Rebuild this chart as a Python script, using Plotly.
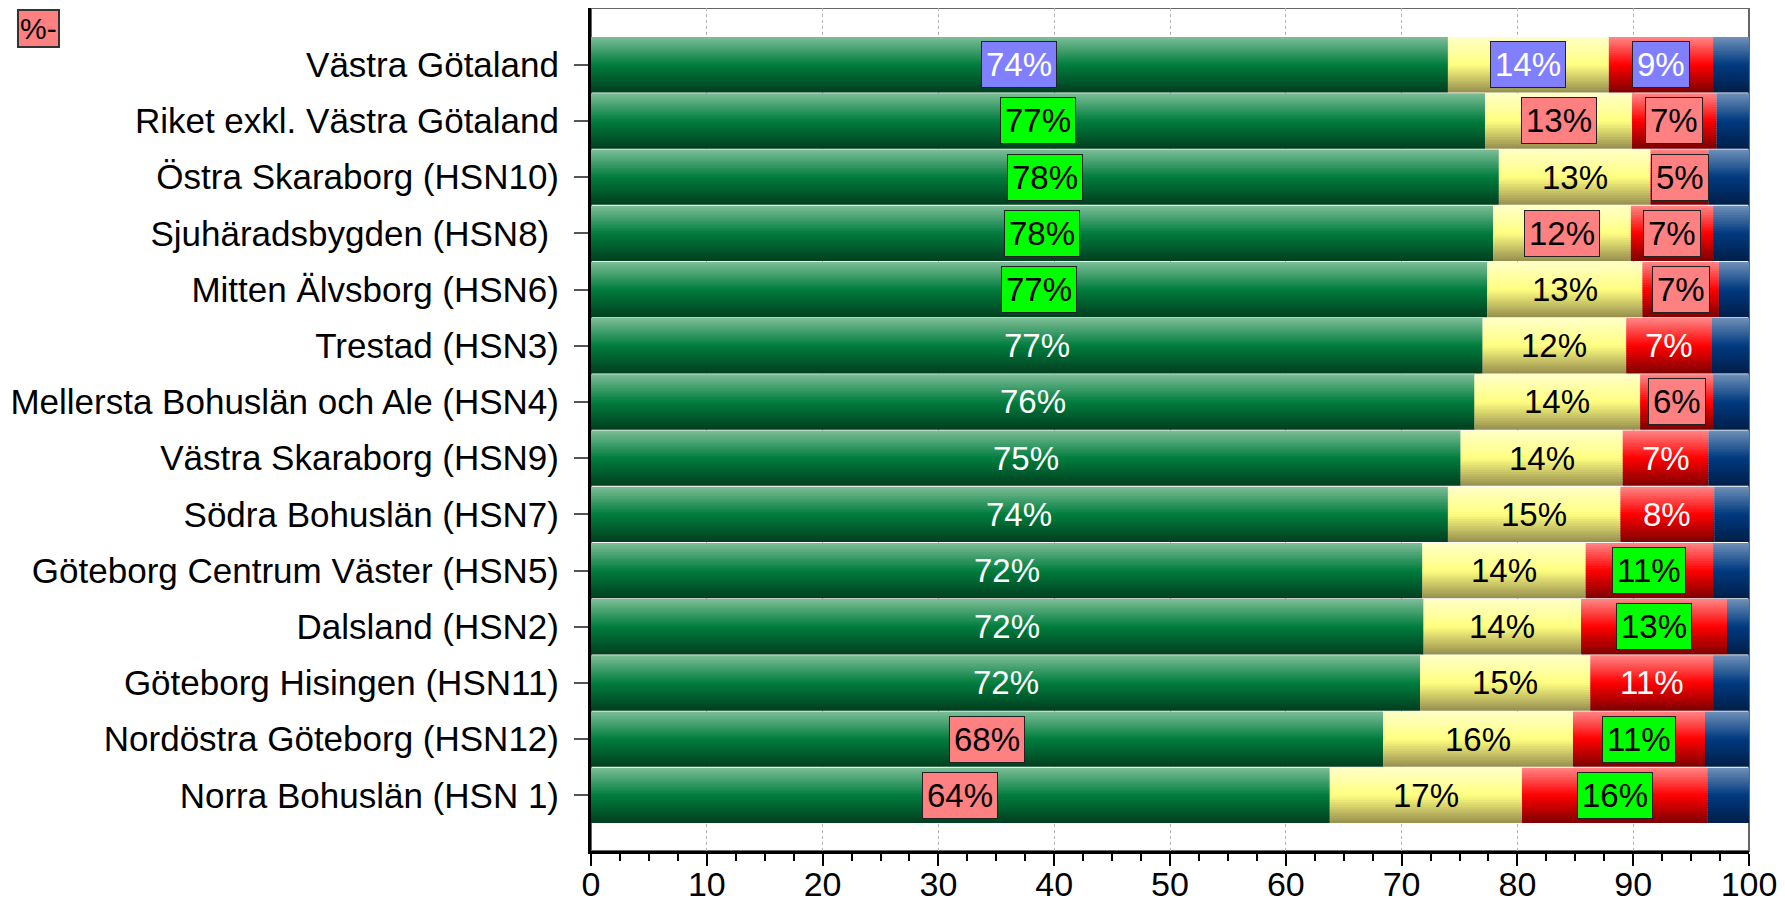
import plotly.graph_objects as go

categories = [
    "Västra Götaland",
    "Riket exkl. Västra Götaland",
    "Östra Skaraborg (HSN10)",
    "Sjuhäradsbygden (HSN8)\u00a0",
    "Mitten Älvsborg (HSN6)",
    "Trestad (HSN3)",
    "Mellersta Bohuslän och Ale (HSN4)",
    "Västra Skaraborg (HSN9)",
    "Södra Bohuslän (HSN7)",
    "Göteborg Centrum Väster (HSN5)",
    "Dalsland (HSN2)",
    "Göteborg Hisingen (HSN11)",
    "Nordöstra Göteborg (HSN12)",
    "Norra Bohuslän (HSN 1)",
]

green = [74.0, 77.2, 78.4, 77.9, 77.4, 77.0, 76.3, 75.1, 74.0, 71.8, 71.9, 71.6, 68.4, 63.8]
yellow = [13.9, 12.7, 13.1, 11.9, 13.4, 12.4, 14.3, 14.0, 14.9, 14.1, 13.6, 14.7, 16.4, 16.6]
red = [9.0, 7.3, 5.0, 7.1, 6.6, 7.4, 6.3, 7.4, 8.1, 11.0, 12.6, 10.6, 11.4, 16.0]
blue = [round(100 - g - y - r, 1) for g, y, r in zip(green, yellow, red)]

# label marking per segment: b = blue box, g = green box, p = pink box, "" = plain
green_flag = ["b", "g", "g", "g", "g", "", "", "", "", "", "", "", "p", "p"]
yellow_flag = ["b", "p", "", "p", "", "", "", "", "", "", "", "", "", ""]
red_flag = ["b", "p", "p", "p", "p", "", "p", "", "", "g", "g", "", "g", "g"]

FONT = "Liberation Sans, Arial, sans-serif"

# gradient stops (top, middle, bottom) for each segment
gradients = {
    "green": [(0.0, (125, 190, 152)), (0.5, (0, 125, 62)), (1.0, (0, 62, 30))],
    "yellow": [(0.0, (255, 255, 200)), (0.5, (255, 255, 128)), (1.0, (150, 142, 78))],
    "red": [(0.0, (255, 135, 135)), (0.5, (255, 0, 0)), (1.0, (125, 0, 0))],
    "blue": [(0.0, (112, 145, 185)), (0.5, (0, 58, 128)), (1.0, (0, 30, 72))],
}


def shade(stops, t):
    for (t0, c0), (t1, c1) in zip(stops[:-1], stops[1:]):
        if t <= t1:
            f = (t - t0) / (t1 - t0)
            c = [round(a + (b - a) * f) for a, b in zip(c0, c1)]
            return "rgb(%d,%d,%d)" % tuple(c)
    return "rgb(%d,%d,%d)" % stops[-1][1]


segments = [("green", green), ("yellow", yellow), ("red", red), ("blue", blue)]

fig = go.Figure()

W = 0.985
N = 24
base = [0.0] * len(categories)
bases = {}
for name, vals in segments:
    bases[name] = list(base)
    for k in range(N):
        w = W / N if k == N - 1 else W / N + 0.02  # overlap to hide seams
        fig.add_trace(go.Bar(
            y=categories, x=vals, base=list(base), orientation="h",
            width=w, offset=-W / 2 + k * W / N,
            marker=dict(color=shade(gradients[name], (k + 0.5) / N), line_width=0),
            showlegend=False, hoverinfo="skip",
        ))
    base = [b + v for b, v in zip(base, vals)]

box_styles = {
    "b": dict(bgcolor="#8080ff", font_color="white"),
    "g": dict(bgcolor="#00ff00", font_color="black"),
    "p": dict(bgcolor="#ff8080", font_color="black"),
}
plain_color = {"green": "white", "yellow": "black", "red": "white"}

annotations = []
for name, vals, flags in [("green", green, green_flag), ("yellow", yellow, yellow_flag), ("red", red, red_flag)]:
    for i, cat in enumerate(categories):
        flag = flags[i]
        a = dict(x=bases[name][i] + vals[i] / 2, y=cat, xref="x", yref="y",
                 text="%d%%" % round(vals[i]), showarrow=False,
                 font=dict(family=FONT, size=33, color=plain_color[name]))
        if flag:
            st = box_styles[flag]
            a["bgcolor"] = st["bgcolor"]
            a["font"]["color"] = st["font_color"]
            a["bordercolor"] = "#222222"
            a["borderwidth"] = 1
            a["borderpad"] = 4
        annotations.append(a)

# marker box in the top left corner
annotations.append(dict(
    x=(52 - 583) / 1158, y=(843 - 40) / 843, xref="paper", yref="paper",
    xanchor="right", yanchor="bottom", text="%-", showarrow=False,
    font=dict(family=FONT, size=30, color="black"),
    bgcolor="#ff8080", bordercolor="#333333", borderwidth=2, borderpad=1,
))

fig.update_layout(
    width=1777, height=896,
    barmode="overlay",
    plot_bgcolor="white", paper_bgcolor="white",
    margin=dict(l=583, r=36, t=0, b=53),
    font=dict(family=FONT, size=34, color="black"),
    annotations=annotations,
    shapes=[dict(type="rect", xref="paper", yref="paper", x0=0, x1=1, y0=0, y1=1,
                 line=dict(color="#666666", width=2), layer="below")],
)

fig.update_xaxes(
    range=[0, 100], tick0=0, dtick=10, ticks="outside", ticklen=12, tickwidth=2,
    tickcolor="black", showline=True, linewidth=3, linecolor="black",
    showgrid=True, gridcolor="#b4b4b4", griddash="dot", gridwidth=1, zeroline=False,
    tickfont=dict(family=FONT, size=34, color="black"), automargin=False,
    ticklabelstandoff=-11,
    minor=dict(dtick=2.5, ticks="outside", ticklen=7, tickwidth=2, tickcolor="black", showgrid=False),
    fixedrange=True,
)
fig.update_yaxes(
    type="category", categoryorder="array", categoryarray=categories,
    range=[13.99, -1.01], ticks="outside", ticklen=14, tickwidth=2, tickcolor="#555555",
    ticklabelstandoff=8,
    showline=True, linewidth=3, linecolor="black", showgrid=False, zeroline=False,
    tickfont=dict(family=FONT, size=35, color="black"), automargin=False,
    fixedrange=True,
)

fig.write_html("out.html")
